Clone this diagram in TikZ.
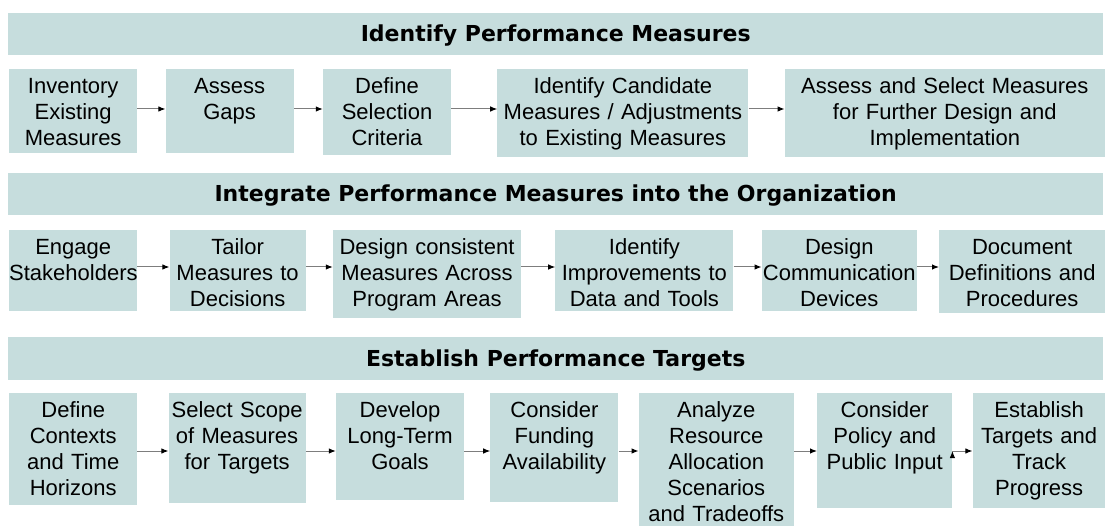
\documentclass[tikz,border=0pt]{standalone}
\usepackage{fontspec}
\setmainfont{Liberation Sans}
\newfontfamily\headfont{DejaVu Sans}
\usepackage{tikz}
\usetikzlibrary{arrows.meta}
\usetikzlibrary{positioning}
\definecolor{boxfill}{RGB}{198,221,221}
\definecolor{linegray}{RGB}{125,125,125}

\begin{document}
\begin{tikzpicture}[x=1pt,y=-1pt,font=\fontsize{22}{26}\selectfont,
  stepbox/.style 2 args={fill=boxfill, inner sep=0pt, anchor=north west, text width=#1, align=center, text height=24pt, text depth=#2},
  headbox/.style={fill=boxfill, inner sep=0pt, anchor=north west, minimum width=1095pt, minimum height=#1, text height=16pt, text depth=1pt, font=\headfont\bfseries\fontsize{22}{26}\selectfont},
  flow/.style={-{Latex[length=7pt,width=5.5pt,color=black]}, draw=linegray, line width=1pt}]

\useasboundingbox (0,0) rectangle (1105,526);

% rows of arrows
\coordinate (r1) at (0,109);
\coordinate (r2) at (0,267);
\coordinate (r3) at (0,451);

% identify
\node[headbox=42pt] (H1) at (8,13) {Identify Performance Measures};
\node[stepbox={128pt}{60pt}] (inv) at (9,69) {Inventory\\Existing\\Measures};
\node[stepbox={128pt}{60pt}, right=28pt of inv.north east, anchor=north west] (gaps) {Assess\\Gaps};
\node[stepbox={128pt}{62pt}, right=29pt of gaps.north east, anchor=north west] (crit) {Define\\Selection\\Criteria};
\node[stepbox={251pt}{64pt}, right=46pt of crit.north east, anchor=north west] (cand) {Identify Candidate\\Measures / Adjustments\\to Existing Measures};
\node[stepbox={320pt}{64pt}, right=36pt of cand.north east, anchor=north west] (sel) {Assess and Select Measures\\for Further Design and\\Implementation};

% integrate
\node[headbox=42pt] (H2) at (8,173) {Integrate Performance Measures into the Organization};
\node[stepbox={128pt}{57pt}] (engage) at (9,230) {Engage\\Stakeholders};
\node[stepbox={136pt}{57pt}, right=32pt of engage.north east, anchor=north west] (tailor) {Tailor\\Measures to\\Decisions};
\node[stepbox={188pt}{64pt}, right=27pt of tailor.north east, anchor=north west] (consist) {Design consistent\\Measures Across\\Program Areas};
\node[stepbox={178pt}{57pt}, right=34pt of consist.north east, anchor=north west] (improve) {Identify\\Improvements to\\Data and Tools};
\node[stepbox={155pt}{57pt}, right=28pt of improve.north east, anchor=north west] (comm) {Design\\Communication\\Devices};
\node[stepbox={166pt}{59pt}, right=22pt of comm.north east, anchor=north west] (docu) {Document\\Definitions and\\Procedures};

% establish
\node[headbox=43pt] (H3) at (8,337) {Establish Performance Targets};
\node[stepbox={128pt}{88pt}] (context) at (9,393) {Define\\Contexts\\and Time\\Horizons};
\node[stepbox={137pt}{86pt}, right=31pt of context.north east, anchor=north west] (scope) {Select Scope\\of Measures\\for Targets};
\node[stepbox={128pt}{83pt}, right=30pt of scope.north east, anchor=north west] (goals) {Develop\\Long-Term\\Goals};
\node[stepbox={128pt}{85pt}, right=26pt of goals.north east, anchor=north west] (fund) {Consider\\Funding\\Availability};
\node[stepbox={155pt}{109pt}, right=20pt of fund.north east, anchor=north west] (alloc) {Analyze\\Resource\\Allocation\\Scenarios\\and Tradeoffs};
\node[stepbox={135pt}{91pt}, right=23pt of alloc.north east, anchor=north west] (policy) {Consider\\Policy and\\Public Input};
\node[stepbox={133pt}{91pt}, right=20pt of policy.north east, anchor=north west] (track) {Establish\\Targets and\\Track\\Progress};

\path[flow]
  (inv.east |- r1) edge (gaps.west |- r1)
  (gaps.east |- r1) edge (crit.west |- r1)
  (crit.east |- r1) edge (cand.west |- r1)
  (cand.east |- r1) edge (sel.west |- r1)
  (engage.east |- r2) edge (tailor.west |- r2)
  (tailor.east |- r2) edge (consist.west |- r2)
  (consist.east |- r2) edge (improve.west |- r2)
  (improve.east |- r2) edge (comm.west |- r2)
  (comm.east |- r2) edge (docu.west |- r2)
  (context.east |- r3) edge (scope.west |- r3)
  (scope.east |- r3) edge (goals.west |- r3)
  (goals.east |- r3) edge (fund.west |- r3)
  (fund.east |- r3) edge (alloc.west |- r3)
  (alloc.east |- r3) edge (policy.west |- r3)
  (policy.east |- r3) edge (track.west |- r3)
  ;

\end{tikzpicture}
\end{document}
